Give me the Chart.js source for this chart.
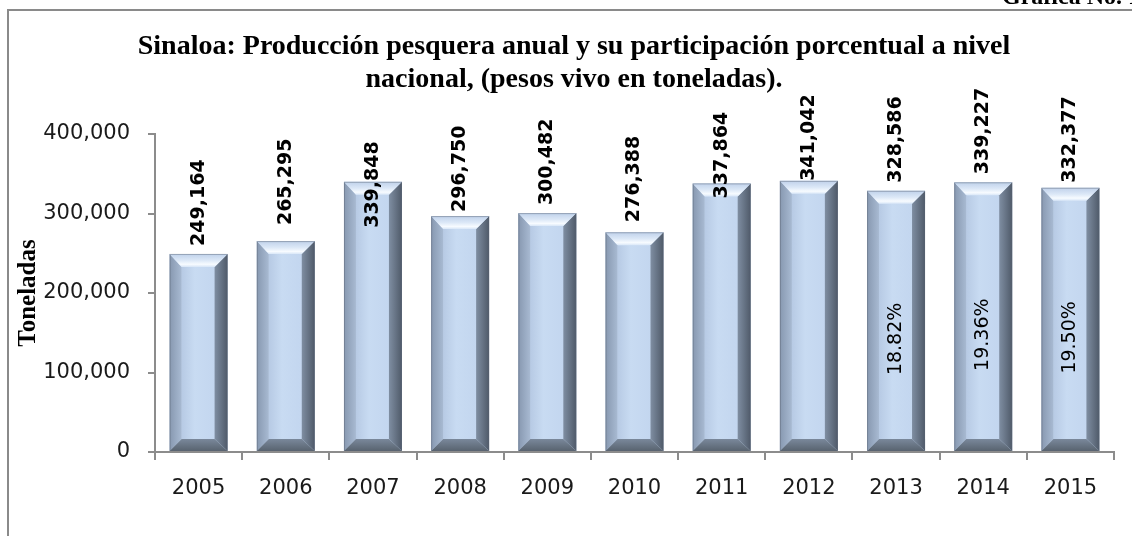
<!DOCTYPE html>
<html>
<head>
<meta charset="utf-8">
<script src="https://cdn.jsdelivr.net/npm/chart.js@4.4.1/dist/chart.umd.min.js"></script>
<style>
  html, body { margin: 0; padding: 0; background: #fff; }
  #wrap { width: 1132px; height: 536px; }
</style>
</head>
<body>
<div id="wrap"><canvas id="grafica"></canvas></div>
<script>
// Años y producción (toneladas, peso vivo)
const years = ["2005", "2006", "2007", "2008", "2009", "2010", "2011", "2012", "2013", "2014", "2015"];
const produccion = [249164, 265295, 339848, 296750, 300482, 276388, 337864, 341042, 328586, 339227, 332377];
// Participación porcentual nacional (solo los últimos años)
const participacion = [null, null, null, null, null, null, null, null, 18.82, 19.36, 19.50];
const yTicks = [0, 100000, 200000, 300000, 400000];

const titleLines = [
    "Sinaloa: Producción pesquera anual y su participación porcentual a nivel",
    "nacional, (pesos vivo en toneladas).",
];

const fmt = (v) => v.toLocaleString("en-US");

// Marco, título y etiqueta de la gráfica
const framePlugin = {
    id: "frame",
    beforeDraw(chart) {
        const ctx = chart.ctx;
        ctx.save();
        ctx.fillStyle = "#fff";
        ctx.fillRect(0, 0, chart.width, chart.height);
        ctx.strokeStyle = "#8a8a8a";
        ctx.lineWidth = 2;
        ctx.beginPath();
        ctx.moveTo(8, chart.height + 5);
        ctx.lineTo(8, 10);
        ctx.lineTo(chart.width + 5, 10);
        ctx.stroke();

        ctx.fillStyle = "#000";
        ctx.font = "bold 24px 'Liberation Serif'";
        ctx.textAlign = "right";
        ctx.textBaseline = "alphabetic";
        ctx.fillText("Gráfica No. 1", chart.width + 8, 4);

        ctx.font = "bold 28px 'Liberation Serif'";
        ctx.textAlign = "center";
        ctx.textBaseline = "middle";
        ctx.fillText(titleLines[0], 574, 47);
        ctx.fillText(titleLines[1], 574, 80);
        ctx.restore();
    },
};

// Efecto de bisel en las barras
const bevelPlugin = {
    id: "bevel",
    afterDatasetsDraw(chart) {
        const ctx = chart.ctx;
        const bl = 12, br = 13, bt = 13, bb = 12;
        const poly = (pts, fill) => {
            ctx.beginPath();
            ctx.moveTo(pts[0][0], pts[0][1]);
            for (let i = 1; i < pts.length; i++) ctx.lineTo(pts[i][0], pts[i][1]);
            ctx.closePath();
            ctx.fillStyle = fill;
            ctx.fill();
        };
        ctx.save();
        chart.getDatasetMeta(0).data.forEach((bar) => {
            const { x, y, base, width } = bar.getProps(["x", "y", "base", "width"], true);
            const l = x - width / 2, r = x + width / 2, t = y, b = base;

            let g = ctx.createLinearGradient(l + bl, 0, r - br, 0);
            g.addColorStop(0, "#b7cae4");
            g.addColorStop(0.4, "#c8dbf2");
            g.addColorStop(1, "#c3d6ef");
            poly([[l + bl, t + bt], [r - br, t + bt], [r - br, b - bb], [l + bl, b - bb]], g);

            g = ctx.createLinearGradient(l, 0, l + bl, 0);
            g.addColorStop(0, "#8798b0");
            g.addColorStop(1, "#a8bad2");
            poly([[l, t], [l + bl, t + bt], [l + bl, b - bb], [l, b]], g);

            g = ctx.createLinearGradient(r - br, 0, r, 0);
            g.addColorStop(0, "#7f8ea2");
            g.addColorStop(1, "#4f5a69");
            poly([[r, t], [r, b], [r - br, b - bb], [r - br, t + bt]], g);

            g = ctx.createLinearGradient(0, t, 0, t + bt);
            g.addColorStop(0, "#bfd1ea");
            g.addColorStop(0.5, "#dce8f7");
            g.addColorStop(0.8, "#f7fbff");
            g.addColorStop(1, "#d8e6f7");
            poly([[l, t], [r, t], [r - br, t + bt], [l + bl, t + bt]], g);

            g = ctx.createLinearGradient(0, b - bb, 0, b);
            g.addColorStop(0, "#7a889b");
            g.addColorStop(1, "#58636f");
            poly([[l, b], [l + bl, b - bb], [r - br, b - bb], [r, b]], g);

            ctx.strokeStyle = "rgba(90,100,115,0.45)";
            ctx.lineWidth = 1;
            ctx.strokeRect(l + 0.5, t + 0.5, width - 1, b - t - 1);
        });
        ctx.restore();
    },
};

// Etiquetas de valores y porcentajes
const labelPlugin = {
    id: "valueLabels",
    afterDatasetsDraw(chart, args, opts) {
        const ctx = chart.ctx;
        ctx.save();
        chart.getDatasetMeta(0).data.forEach((bar, i) => {
            const { x, y, base } = bar.getProps(["x", "y", "base"], true);
            ctx.save();
            ctx.translate(x, y - opts.gap + (opts.shift[i] || 0));
            ctx.rotate(-Math.PI / 2);
            ctx.font = "bold 19px 'DejaVu Sans'";
            ctx.fillStyle = "#000";
            ctx.textAlign = "left";
            ctx.textBaseline = "middle";
            ctx.fillText(fmt(produccion[i]), 0, 0);
            ctx.restore();

            if (participacion[i] != null) {
                ctx.save();
                ctx.translate(x, (y + base) / 2 + 18);
                ctx.rotate(-Math.PI / 2);
                ctx.font = "19px 'DejaVu Sans'";
                ctx.fillStyle = "#000";
                ctx.textAlign = "center";
                ctx.textBaseline = "middle";
                ctx.fillText(participacion[i].toFixed(2) + "%", 0, 0);
                ctx.restore();
            }
        });
        ctx.restore();
    },
};

new Chart(document.getElementById("grafica"), {
    type: "bar",
    plugins: [framePlugin, bevelPlugin, labelPlugin],
    data: {
        labels: years,
        datasets: [
            {
                data: produccion,
                backgroundColor: "#c5d8f0",
                borderWidth: 0,
                barPercentage: 0.665,
                categoryPercentage: 1,
            },
        ],
    },
    options: {
        responsive: true,
        maintainAspectRatio: false,
        animation: false,
        layout: { padding: { top: 134, right: 18, bottom: 0, left: 0 } },
        plugins: {
            legend: { display: false },
            title: { display: false },
            tooltip: { enabled: false },
            valueLabels: { gap: 8, shift: [0, -8, 54, 4, 0, -2, 23, 8, 0, 0, 3] },
        },
        scales: {
            x: {
                afterFit: (s) => { s.height = 84; },
                border: { color: "#8c8c8c", width: 2 },
                grid: { display: true, drawOnChartArea: false, tickLength: 8, color: "#8c8c8c", lineWidth: 2 },
                ticks: { color: "#1a1a1a", padding: 16, font: { family: "DejaVu Sans", size: 21 } },
            },
            y: {
                min: 0,
                max: 400000,
                afterFit: (s) => { s.width = 155; },
                afterBuildTicks: (s) => { s.ticks = yTicks.map((v) => ({ value: v })); },
                border: { color: "#8c8c8c", width: 2 },
                grid: { display: true, drawOnChartArea: false, tickLength: 7, color: "#8c8c8c", lineWidth: 2 },
                ticks: {
                    color: "#1a1a1a",
                    padding: 18,
                    font: { family: "DejaVu Sans", size: 21 },
                    callback: (v) => fmt(v),
                },
                title: {
                    display: true,
                    text: "Toneladas",
                    color: "#000",
                    padding: { top: 14, bottom: 0 },
                    font: { family: "Liberation Serif", size: 25, weight: "bold" },
                },
            },
        },
    },
});
</script>
</body>
</html>
